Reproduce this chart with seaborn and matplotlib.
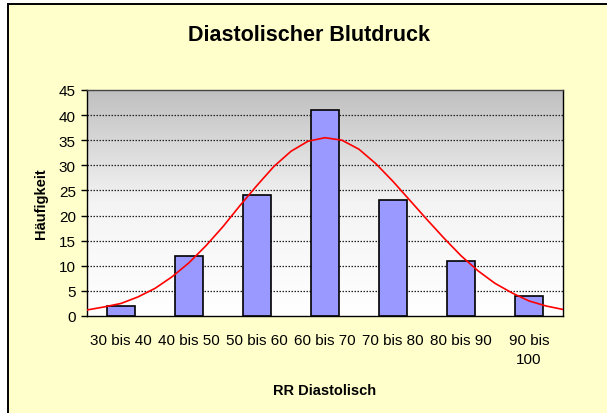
import numpy as np
import pandas as pd
import matplotlib
matplotlib.use("Agg")
import matplotlib.pyplot as plt
from matplotlib.patches import Rectangle
import seaborn as sns

categories = ["30 bis 40", "40 bis 50", "50 bis 60", "60 bis 70",
              "70 bis 80", "80 bis 90", "90 bis\n100"]
counts = [2, 12, 24, 41, 23, 11, 4]

# normal curve (RR value -> Häufigkeit)
curve_rr = [30, 32.5, 35, 37.5, 40, 42.5, 45, 47.5, 50, 52.5, 55, 57.5, 60,
            62.5, 65, 67.5, 70, 72.5, 75, 77.5, 80, 82.5, 85, 87.5, 90,
            92.5, 95, 97.5, 100]
curve_val = [1.2, 1.8, 2.5, 3.8, 5.5, 7.8, 10.6, 14.0, 17.8, 22.0, 26.0,
             29.8, 32.8, 34.8, 35.5, 35.0, 33.2, 30.3, 26.8, 23.0, 19.2,
             15.5, 12.0, 9.0, 6.5, 4.6, 3.0, 2.0, 1.3]

yticks = [0, 5, 10, 15, 20, 25, 30, 35, 40, 45]

sns.set_style("white")
plt.rcParams["font.family"] = ["Liberation Sans", "DejaVu Sans"]
plt.rcParams["text.color"] = "black"
plt.rcParams["axes.labelcolor"] = "black"
plt.rcParams["xtick.color"] = "black"
plt.rcParams["ytick.color"] = "black"

W, H = 607, 414
fig = plt.figure(figsize=(W / 100, H / 100), dpi=100, facecolor="white")

# outer chart area with border
bg = Rectangle((8 / W, -0.05), 1.1, 1 - 5 / H + 0.05, transform=fig.transFigure,
               facecolor="#FFFFCC", edgecolor="black", linewidth=1.4, zorder=-10)
fig.patches.append(bg)

ax = fig.add_axes([87 / W, 1 - 317 / H, (563 - 87) / W, (317 - 91) / H])
ax.set_zorder(1)
ax.set_facecolor("none")

# gradient background of the plot area
grad = np.linspace(0, 1, 256).reshape(-1, 1)
cmap = matplotlib.colors.LinearSegmentedColormap.from_list(
    "g", ["#ffffff", "#f4f4f4", "#c0c0c0"])
ax.imshow(grad, extent=[-0.5, 6.5, 0, 45], origin="lower", aspect="auto",
          cmap=cmap, zorder=0, interpolation="bilinear")

df = pd.DataFrame({"cat": categories, "n": counts})
sns.barplot(data=df, x="cat", y="n", ax=ax, color="#9999FF", saturation=1,
            width=0.41, edgecolor="black", linewidth=1.2, zorder=3)

curve_pos = [(v - 35) / 10 for v in curve_rr]
sns.lineplot(x=curve_pos, y=curve_val, ax=ax, color="#FF0000", linewidth=1.2,
             zorder=4, sort=False)

ax.set_xlim(-0.5, 6.5)
ax.set_ylim(0, 45)
ax.set_yticks(yticks)
ax.set_yticklabels([str(t) for t in yticks])
for t in yticks[1:-1]:
    ax.axhline(t, color="#222222", linestyle=(0, (1.2, 1.2)), linewidth=0.9, zorder=1)

ax.set_xticks(range(len(categories)))
ax.set_xticklabels(categories, linespacing=1.5)
ax.set_xticks([i - 0.5 for i in range(len(categories) + 1)], minor=True)
ax.tick_params(axis="x", which="major", length=0, pad=12, labelsize=11)
ax.tick_params(axis="x", which="minor", length=4, width=1, direction="out", color="black")
ax.tick_params(axis="y", which="major", length=4, width=1, direction="out",
               color="black", pad=4, labelsize=11, left=True)

for s in ax.spines.values():
    s.set_visible(True)
    s.set_color("black")
    s.set_linewidth(1.0)
ax.spines["top"].set_color("#444444")

ax.set_xlabel("RR Diastolisch", fontsize=10.5, fontweight="bold", labelpad=12)
ax.set_ylabel("Häufigkeit", fontsize=10.5, fontweight="bold", labelpad=8)

fig.text(309 / W, 1 - 36 / H, "Diastolischer Blutdruck", ha="center", va="center",
         fontsize=15.5, fontweight="bold")

fig.savefig("out.png", dpi=100, facecolor=fig.get_facecolor())
